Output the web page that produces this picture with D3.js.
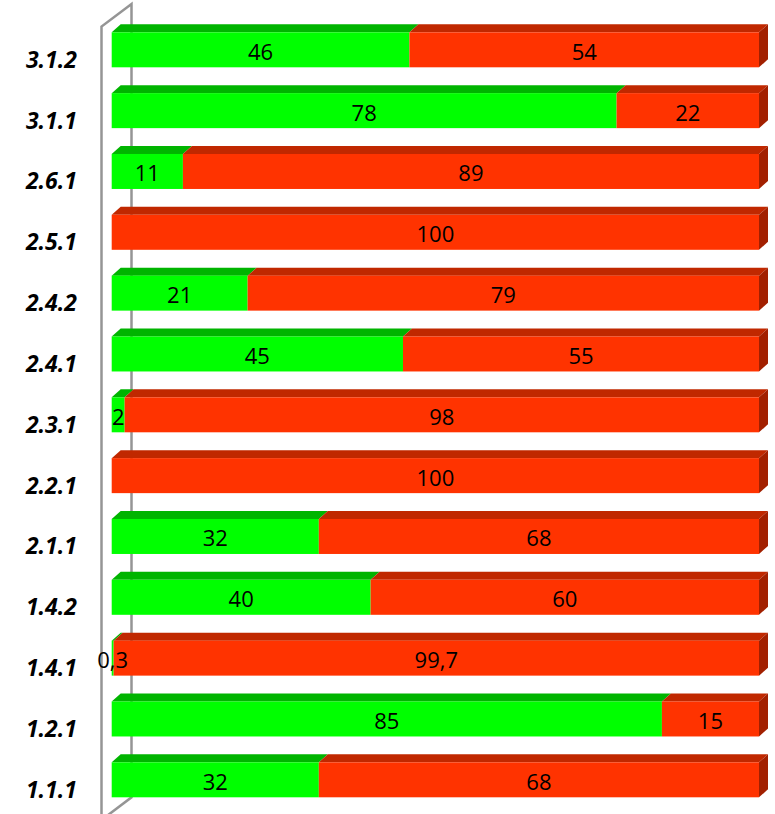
<!DOCTYPE html>
<html>
<head>
<meta charset="utf-8">
<script src="https://cdn.jsdelivr.net/npm/d3@7"></script>
<style>
  html, body { margin: 0; padding: 0; background: #fff; }
  svg { display: block; }
</style>
</head>
<body>
<div id="chart"></div>
<script>
// Data (top to bottom as shown)
const categories = ["3.1.2","3.1.1","2.6.1","2.5.1","2.4.2","2.4.1","2.3.1","2.2.1","2.1.1","1.4.2","1.4.1","1.2.1","1.1.1"];
const greenValues = [46, 78, 11, 0, 21, 45, 2, 0, 32, 40, 0.3, 85, 32];
const redValues   = [54, 22, 89, 100, 79, 55, 98, 100, 68, 60, 99.7, 15, 68];
const valueTicks = [0, 100];

const W = 775, H = 814;
const depthX = 9, depthY = 8;

const svg = d3.select("#chart").append("svg").attr("width", W).attr("height", H);

const x = d3.scaleLinear().domain(d3.extent(valueTicks)).range([111.7, 759]);
const y = d3.scaleBand().domain(categories).range([32.3, 797.3]).paddingInner(0.4246).paddingOuter(0);

const fmt = v => String(v).replace(".", ",");

// Walls (3D axis frame)
const wall = svg.append("g").attr("fill", "none").attr("stroke", "#959595").attr("stroke-width", 2.5);
wall.append("path").attr("d", "M101.5,814 L101.5,26.5 L131.5,4 L131.5,797.3 L101.5,820");

const series = [
  { key: "green", values: greenValues, front: "#00FF00", top: "#00B400", side: "#009900" },
  { key: "red",   values: redValues,   front: "#FF3300", top: "#C02800", side: "#A22000" }
];

categories.forEach((cat, i) => {
  const g = svg.append("g");
  const y0 = y(cat), bh = y.bandwidth();
  let cum = 0;
  let lastS = null, lastEnd = 0;
  series.forEach(s => {
    const v = s.values[i];
    if (v <= 0) return;
    const xa = x(cum), xb = x(cum + v);
    g.append("path")
      .attr("d", `M${xa},${y0} L${xa + depthX},${y0 - depthY} L${xb + depthX},${y0 - depthY} L${xb},${y0} Z`)
      .attr("fill", s.top);
    g.append("rect")
      .attr("x", xa).attr("y", y0).attr("width", xb - xa).attr("height", bh)
      .attr("fill", s.front);
    cum += v;
    lastS = s; lastEnd = xb;
  });
  if (lastS) {
    g.append("path")
      .attr("d", `M${lastEnd},${y0} L${lastEnd + depthX},${y0 - depthY} L${lastEnd + depthX},${y0 + bh - depthY} L${lastEnd},${y0 + bh} Z`)
      .attr("fill", lastS.side);
  }
  cum = 0;
  series.forEach(s => {
    const v = s.values[i];
    if (v <= 0) return;
    const xm = x(cum + v / 2);
    g.append("text")
      .attr("x", xm).attr("y", y0 + bh / 2 + 1)
      .attr("text-anchor", "middle").attr("dominant-baseline", "central")
      .attr("font-family", "'Open Sans', sans-serif").attr("font-size", 22)
      .attr("fill", "#000")
      .text(fmt(v));
    cum += v;
  });
  svg.append("text")
    .attr("x", 77).attr("y", y0 + bh / 2 + 9)
    .attr("text-anchor", "end").attr("dominant-baseline", "central")
    .attr("font-family", "'Open Sans', sans-serif").attr("font-size", 23)
    .attr("font-weight", "bold").attr("font-style", "italic")
    .attr("fill", "#000")
    .text(cat);
});
</script>
</body>
</html>
